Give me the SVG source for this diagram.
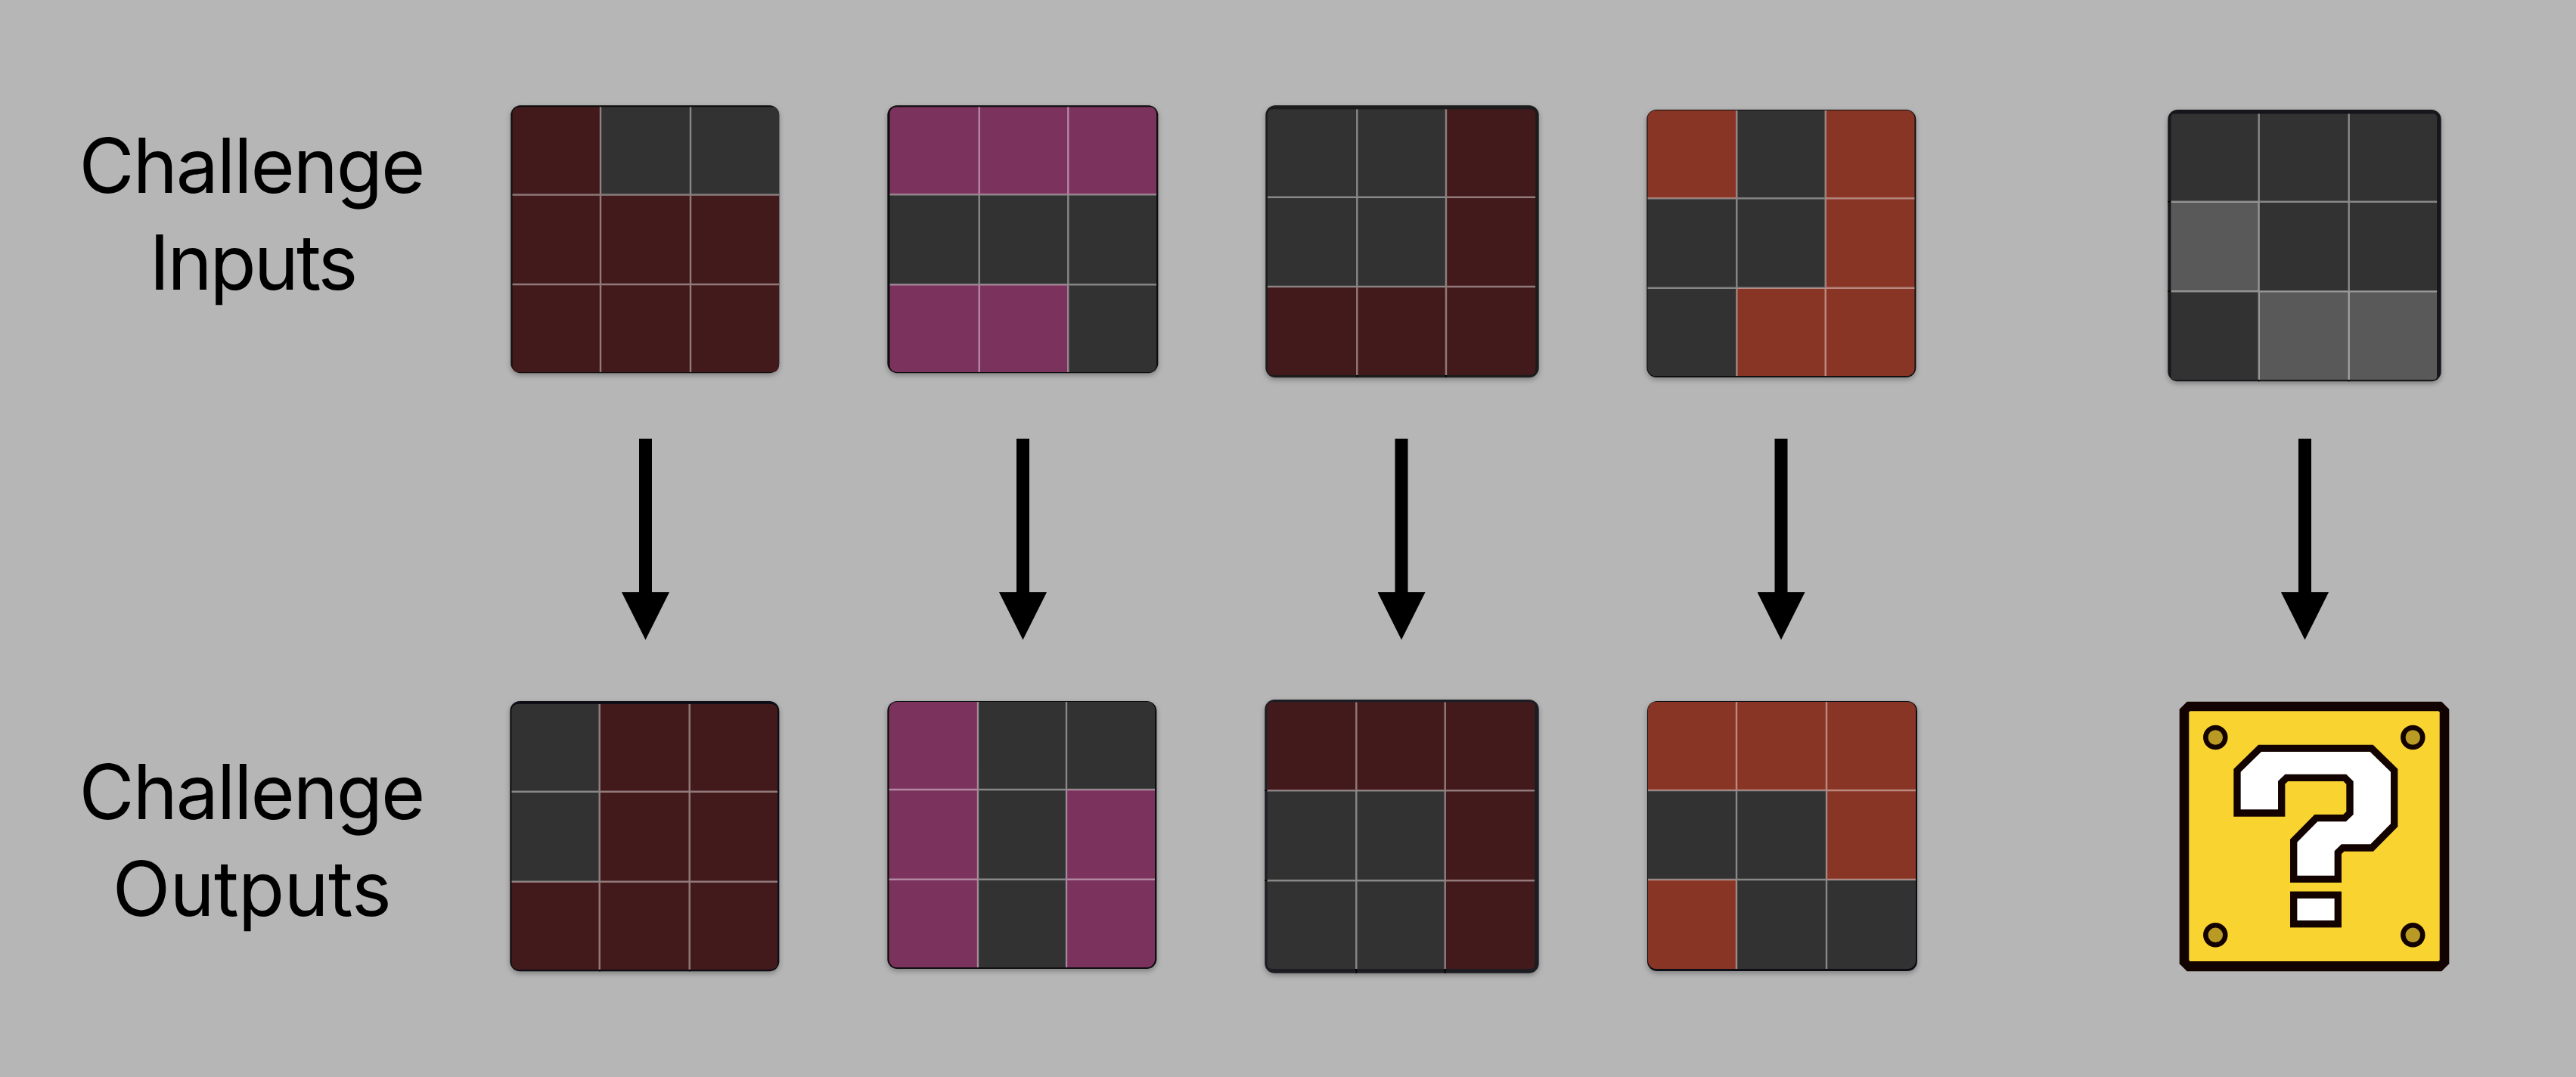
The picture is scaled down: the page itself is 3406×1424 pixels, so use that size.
<svg xmlns="http://www.w3.org/2000/svg" width="3406" height="1424" viewBox="0 0 3406 1424">
<style>
.label{font-family:"Inter","Liberation Sans",sans-serif;font-size:100px;fill:#000;text-anchor:middle}
.d{fill:#323232}.r{fill:#431a1c}.p{fill:#7b325d}.o{fill:#893525}.g{fill:#595959}
.ln{stroke:#fff;stroke-opacity:.42;stroke-width:2.4;fill:none}
.tick{stroke:#000;stroke-width:1.6;fill:none}
.shadow{filter:url(#sh)}
.arrow{stroke:#000;stroke-width:17;marker-end:url(#head)}
.blk{fill:#120301}.q{fill:#fff;stroke:#120301;stroke-width:9.33;stroke-linejoin:miter;stroke-miterlimit:4}
.dot{fill:#b89a24;stroke:#120301;stroke-width:6.5}
</style>
<defs>
<filter id="sh" x="-5%" y="-5%" width="110%" height="110%"><feDropShadow dx="0" dy="3" stdDeviation="3.5" flood-color="#000" flood-opacity=".3"/></filter>
<marker id="head" markerUnits="userSpaceOnUse" markerWidth="63" markerHeight="63" viewBox="0 0 63 63" refX="0" refY="31.5" orient="auto"><polygon points="0,0 63,31.5 0,63"/></marker>
<clipPath id="c1"><rect x="677.3" y="141.3" width="352.7" height="351" rx="9"/></clipPath>
<clipPath id="c2"><rect x="1176.3" y="141.3" width="352.7" height="350.7" rx="9"/></clipPath>
<clipPath id="c3"><rect x="1676" y="144.3" width="354.3" height="351.7" rx="7"/></clipPath>
<clipPath id="c4"><rect x="2178.3" y="146" width="353.4" height="351.3" rx="11"/></clipPath>
<clipPath id="c5"><rect x="2870.3" y="150.3" width="352" height="352" rx="5"/></clipPath>
<clipPath id="c6"><rect x="676.3" y="930.7" width="352" height="351.3" rx="9"/></clipPath>
<clipPath id="c7"><rect x="1175.3" y="928" width="351.7" height="351.3" rx="11"/></clipPath>
<clipPath id="c8"><rect x="1675.3" y="928.3" width="354" height="352.7" rx="6"/></clipPath>
<clipPath id="c9"><rect x="2179" y="928" width="354" height="353" rx="11"/></clipPath>
</defs>
<rect width="3406" height="1424" fill="#b6b6b6"/>

<g id="label-inputs"><text class="label" x="332.5" y="255" letter-spacing="-2">Challenge</text><text class="label" x="334" y="382.7" letter-spacing="-3">Inputs</text></g>
<g id="label-outputs"><text class="label" x="332.5" y="1082.7" letter-spacing="-2">Challenge</text><text class="label" x="333" y="1210.7" letter-spacing="-0.7">Outputs</text></g>

<g id="input-1">
<rect class="shadow" x="675.3" y="139.3" width="355" height="354" rx="13" fill="#0a0a0a"/>
<g clip-path="url(#c1)">
<rect class="r" x="677.3" y="141.3" width="116.7" height="116.2"/><rect class="d" x="794" y="141.3" width="119" height="116.2"/><rect class="d" x="913" y="141.3" width="117" height="116.2"/>
<rect class="r" x="677.3" y="257.5" width="352.7" height="234.8"/>
<path class="ln" d="M794 141.3V492.3M913 141.3V492.3M677.3 257.5H1030M677.3 376H1030"/>
</g></g>

<g id="input-2">
<rect class="shadow" x="1173.3" y="139.3" width="358" height="354" rx="13" fill="#0c0c0c"/>
<g clip-path="url(#c2)">
<rect class="p" x="1176.3" y="141.3" width="352.7" height="116"/>
<rect class="d" x="1176.3" y="257.3" width="352.7" height="119"/>
<rect class="p" x="1176.3" y="376.3" width="236" height="115.7"/><rect class="d" x="1412.3" y="376.3" width="116.7" height="115.7"/>
<path class="ln" d="M1294.7 141.3V492M1412.3 141.3V492M1176.3 257.3H1529M1176.3 376.3H1529"/>
</g></g>

<g id="input-3">
<rect class="shadow" x="1673.3" y="139.3" width="361.4" height="360" rx="13" fill="#1a1a1e"/>
<g clip-path="url(#c3)">
<rect class="d" x="1676" y="144.3" width="236" height="234.7"/><rect class="r" x="1912" y="144.3" width="118.3" height="234.7"/>
<rect class="r" x="1676" y="379" width="354.3" height="117"/>
<path class="ln" d="M1794.3 144.3V496M1912 144.3V496M1676 260.7H2030.3M1676 379H2030.3"/>
</g>
<path class="tick" d="M1794.3 496V499M1912 496V499"/></g>

<g id="input-4">
<rect class="shadow" x="2177.3" y="145" width="356" height="354" rx="13" fill="#0a0a0a"/>
<g clip-path="url(#c4)">
<rect class="o" x="2178.3" y="146" width="118" height="116.3"/><rect class="d" x="2296.3" y="146" width="117.4" height="116.3"/><rect class="o" x="2413.7" y="146" width="118" height="116.3"/>
<rect class="d" x="2178.3" y="262.3" width="235.4" height="118.4"/><rect class="o" x="2413.7" y="262.3" width="118" height="118.4"/>
<rect class="d" x="2178.3" y="380.7" width="118" height="116.6"/><rect class="o" x="2296.3" y="380.7" width="235.4" height="116.6"/>
<path class="ln" d="M2296.3 146V497.3M2413.7 146V497.3M2178.3 262.3H2531.7M2178.3 380.7H2531.7"/>
</g></g>

<g id="input-5">
<rect class="shadow" x="2866.3" y="145" width="361.4" height="359.3" rx="13" fill="#18181c"/>
<g clip-path="url(#c5)">
<rect class="d" x="2870.3" y="150.3" width="352" height="352"/>
<rect class="g" x="2870.3" y="266.7" width="116.4" height="118.6"/>
<rect class="g" x="2986.7" y="385.3" width="235.6" height="117"/>
<path class="ln" d="M2986.7 150.3V502.3M3105.7 150.3V502.3M2870.3 266.7H3222.3M2870.3 385.3H3222.3"/>
</g>
<path class="tick" d="M2986.7 502.3V504.3M3105.7 502.3V504.3M2866.3 266.7H2870.3M2866.3 385.3H2870.3"/></g>

<g id="output-1">
<rect class="shadow" x="674.3" y="927" width="356" height="357.3" rx="13" fill="#111114"/>
<g clip-path="url(#c6)">
<rect class="r" x="676.3" y="930.7" width="352" height="351.3"/>
<rect class="d" x="676.3" y="930.7" width="116.4" height="235"/>
<path class="ln" d="M792.7 930.7V1282M911.7 930.7V1282M676.3 1046.7H1028.3M676.3 1165.7H1028.3"/>
</g>
<path class="tick" d="M792.7 1282V1284.3M911.7 1282V1284.3"/></g>

<g id="output-2">
<rect class="shadow" x="1173.3" y="927" width="356" height="354" rx="13" fill="#0d0d0d"/>
<g clip-path="url(#c7)">
<rect class="p" x="1175.3" y="928" width="351.7" height="351.3"/>
<rect class="d" x="1293" y="928" width="117" height="351.3"/>
<rect class="d" x="1410" y="928" width="117" height="116"/>
<path class="ln" d="M1293 928V1279.3M1410 928V1279.3M1175.3 1044H1527M1175.3 1162.7H1527"/>
</g></g>

<g id="output-3">
<rect class="shadow" x="1672.3" y="925" width="362.4" height="361.7" rx="13" fill="#1c1e20"/>
<g clip-path="url(#c8)">
<rect class="d" x="1675.3" y="928.3" width="354" height="352.7"/>
<rect class="r" x="1675.3" y="928.3" width="354" height="117"/>
<rect class="r" x="1910.7" y="1045.3" width="118.6" height="235.7"/>
<path class="ln" d="M1793.3 928.3V1281M1910.7 928.3V1281M1675.3 1045.3H2029.3M1675.3 1164.3H2029.3"/>
</g>
<path class="tick" d="M1793.3 1281V1286.7M1910.7 1281V1286.7M1672.3 1045.3H1675.3M1672.3 1164.3H1675.3"/></g>

<g id="output-4">
<rect class="shadow" x="2178" y="927" width="357" height="357" rx="13" fill="#111114"/>
<g clip-path="url(#c9)">
<rect class="d" x="2179" y="928" width="354" height="353"/>
<rect class="o" x="2179" y="928" width="354" height="117"/>
<rect class="o" x="2415" y="1045" width="118" height="118"/>
<rect class="o" x="2179" y="1163" width="117" height="118"/>
<path class="ln" d="M2296 928V1281M2415 928V1281M2179 1045H2533M2179 1163H2533"/>
</g></g>

<g id="output-unknown">
<polygon class="blk" points="2891.7,927.7 3228.3,927.7 3238.3,937.7 3238.3,1274.3 3228.3,1284.3 2891.7,1284.3 2881.7,1274.3 2881.7,937.7"/>
<rect x="2894.3" y="940.3" width="331.4" height="330.7" rx="2" fill="#f9d431"/>
<circle class="dot" cx="2929.3" cy="975" r="13"/><circle class="dot" cx="3190.3" cy="975" r="13"/>
<circle class="dot" cx="2929.3" cy="1236.3" r="13"/><circle class="dot" cx="3190.3" cy="1236.3" r="13"/>
<polygon class="q" points="2988,989.3 3135.7,989.3 3165.7,1018.7 3165.7,1091 3136,1121 3097.7,1121 3091.3,1127.3 3091.3,1162.3 3032.7,1162.3 3032.7,1111.7 3062.3,1081.7 3100,1081.7 3107,1075 3107,1035 3100.3,1028.3 3023.3,1028.3 3016.7,1034.7 3016.7,1075 2958,1075 2958,1018.7"/>
<rect class="q" x="3032.7" y="1183.3" width="58.6" height="38.4"/>
</g>

<g id="connectors">
<line class="arrow" x1="853.5" y1="580" x2="853.5" y2="783"/>
<line class="arrow" x1="1352.5" y1="580" x2="1352.5" y2="783"/>
<line class="arrow" x1="1853" y1="580" x2="1853" y2="783"/>
<line class="arrow" x1="2355" y1="580" x2="2355" y2="783"/>
<line class="arrow" x1="3047.5" y1="580" x2="3047.5" y2="783"/>
</g>
</svg>
